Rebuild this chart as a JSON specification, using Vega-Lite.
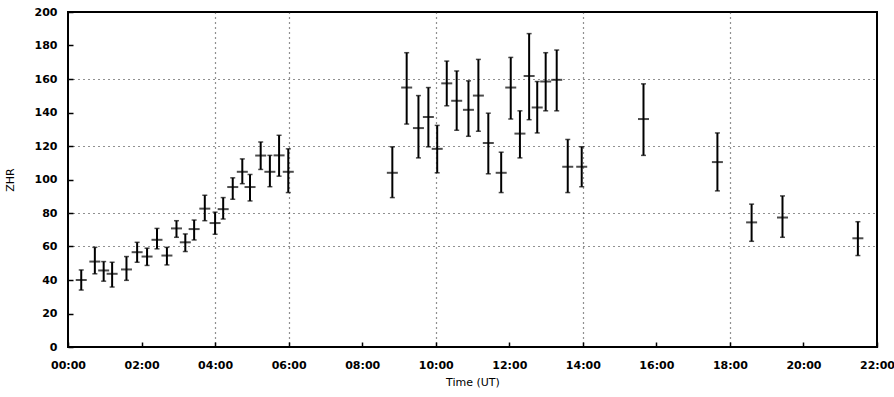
{
  "$schema": "https://vega.github.io/schema/vega-lite/v6.json",
  "autosize": {"type": "none"},
  "width": 809,
  "height": 335,
  "padding": {"left": 68, "top": 12, "right": 17, "bottom": 50},
  "background": "white",
  "config": {
    "view": {"stroke": "black", "strokeWidth": 2},
    "font": "DejaVu Sans",
    "axis": {
      "labelFont": "DejaVu Sans",
      "labelFontSize": 11,
      "labelFontWeight": "bold",
      "labelColor": "black",
      "labelOverlap": false,
      "labelFlush": false,
      "titleFont": "DejaVu Sans",
      "titleFontSize": 11,
      "titleFontWeight": "normal",
      "titleColor": "black",
      "domain": false,
      "tickColor": "black",
      "tickSize": -5,
      "tickWidth": 1.5,
      "gridColor": "#222222",
      "gridDash": [1, 4],
      "gridWidth": 1.2
    }
  },
  "data": {
    "values": [
      {"t": 0.36, "z": 40, "lo": 34, "hi": 46},
      {"t": 0.73, "z": 51, "lo": 43.7, "hi": 59.5},
      {"t": 0.97, "z": 45.7, "lo": 39.3, "hi": 51},
      {"t": 1.2, "z": 43.7, "lo": 35.8, "hi": 50.6},
      {"t": 1.59, "z": 46.3, "lo": 39.8, "hi": 54},
      {"t": 1.88, "z": 56.6, "lo": 50.6, "hi": 62.5},
      {"t": 2.15, "z": 54, "lo": 48.7, "hi": 59},
      {"t": 2.42, "z": 64, "lo": 58.6, "hi": 70.8},
      {"t": 2.69, "z": 54.6, "lo": 49, "hi": 59.5},
      {"t": 2.95, "z": 70.8, "lo": 65.5, "hi": 75.4},
      {"t": 3.19, "z": 62.5, "lo": 57, "hi": 67.5},
      {"t": 3.43, "z": 70.4, "lo": 63.9, "hi": 75.8},
      {"t": 3.72, "z": 82.6, "lo": 75.4, "hi": 90.6},
      {"t": 4.0, "z": 74, "lo": 67.3, "hi": 80.5},
      {"t": 4.22, "z": 82.3, "lo": 76.4, "hi": 89.2},
      {"t": 4.48, "z": 95.5, "lo": 88.2, "hi": 101},
      {"t": 4.74, "z": 104.6, "lo": 97.5, "hi": 112.3},
      {"t": 4.95, "z": 95.5, "lo": 87.2, "hi": 103},
      {"t": 5.24, "z": 114.3, "lo": 106, "hi": 122.4},
      {"t": 5.49, "z": 104.6, "lo": 95.7, "hi": 114.4},
      {"t": 5.74, "z": 114.4, "lo": 102, "hi": 126.4},
      {"t": 5.99, "z": 104.6, "lo": 92.2, "hi": 118.3},
      {"t": 8.82, "z": 104, "lo": 89.2, "hi": 119.5},
      {"t": 9.21, "z": 154.9, "lo": 133.1, "hi": 175.7},
      {"t": 9.53, "z": 130.7, "lo": 112.9, "hi": 150.1},
      {"t": 9.8, "z": 137.3, "lo": 119.5, "hi": 154.9},
      {"t": 10.04, "z": 118.3, "lo": 104, "hi": 132.3},
      {"t": 10.3, "z": 157.4, "lo": 144, "hi": 170.7},
      {"t": 10.57, "z": 147, "lo": 129.4, "hi": 164.8},
      {"t": 10.89, "z": 141.6, "lo": 125.8, "hi": 158.9},
      {"t": 11.16, "z": 150.1, "lo": 128.8, "hi": 171.7},
      {"t": 11.43, "z": 121.8, "lo": 103.4, "hi": 139.6},
      {"t": 11.78, "z": 104, "lo": 92.2, "hi": 116.3},
      {"t": 12.04, "z": 154.9, "lo": 136.1, "hi": 172.9},
      {"t": 12.29, "z": 127.4, "lo": 112.9, "hi": 141},
      {"t": 12.54, "z": 161.8, "lo": 135.7, "hi": 187.1},
      {"t": 12.76, "z": 143, "lo": 127.8, "hi": 158.5},
      {"t": 12.99, "z": 158.5, "lo": 141, "hi": 175.7},
      {"t": 13.29, "z": 159.5, "lo": 141, "hi": 177.3},
      {"t": 13.59, "z": 107.6, "lo": 92.2, "hi": 123.9},
      {"t": 13.97, "z": 107.6, "lo": 95.7, "hi": 119.5},
      {"t": 15.65, "z": 136.1, "lo": 114.4, "hi": 157.1},
      {"t": 17.66, "z": 110.4, "lo": 93.2, "hi": 127.8},
      {"t": 18.59, "z": 74.4, "lo": 63.1, "hi": 85.3},
      {"t": 19.43, "z": 77.3, "lo": 65.5, "hi": 90.2},
      {"t": 21.48, "z": 64.9, "lo": 54.6, "hi": 74.8}
    ]
  },
  "encoding": {
    "x": {
      "field": "t",
      "type": "quantitative",
      "scale": {"domain": [0, 22], "nice": false, "zero": false},
      "axis": {
        "title": "Time (UT)",
        "values": [0, 2, 4, 6, 8, 10, 12, 14, 16, 18, 20, 22],
        "labelExpr": "(datum.value < 10 ? '0' : '') + datum.value + ':00'",
        "labelPadding": 17,
        "titlePadding": 6,
        "gridOpacity": {"condition": {"test": "indexof([4,6,10,14,18], datum.value) >= 0", "value": 1}, "value": 0}
      }
    }
  },
  "layer": [
    {
      "mark": {"type": "rule", "color": "black", "strokeWidth": 2},
      "encoding": {
        "y": {
          "field": "lo",
          "type": "quantitative",
          "scale": {"domain": [0, 200], "nice": false},
          "axis": {
            "title": "ZHR",
            "values": [0, 20, 40, 60, 80, 100, 120, 140, 160, 180, 200],
            "labelPadding": 16,
            "titlePadding": 19,
            "gridOpacity": {"condition": {"test": "indexof([60,80,120,160], datum.value) >= 0", "value": 1}, "value": 0}
          }
        },
        "y2": {"field": "hi"}
      }
    },
    {
      "mark": {"type": "tick", "orient": "horizontal", "color": "black", "size": 11, "thickness": 2},
      "encoding": {"y": {"field": "z", "type": "quantitative",
          "axis": {
            "title": "ZHR",
            "values": [0, 20, 40, 60, 80, 100, 120, 140, 160, 180, 200],
            "labelPadding": 16,
            "titlePadding": 19,
            "gridOpacity": {"condition": {"test": "indexof([60,80,120,160], datum.value) >= 0", "value": 1}, "value": 0}
          }}}
    },
    {
      "mark": {"type": "tick", "orient": "horizontal", "color": "black", "size": 5, "thickness": 1.5},
      "encoding": {"y": {"field": "lo", "type": "quantitative",
          "axis": {
            "title": "ZHR",
            "values": [0, 20, 40, 60, 80, 100, 120, 140, 160, 180, 200],
            "labelPadding": 16,
            "titlePadding": 19,
            "gridOpacity": {"condition": {"test": "indexof([60,80,120,160], datum.value) >= 0", "value": 1}, "value": 0}
          }}}
    },
    {
      "mark": {"type": "tick", "orient": "horizontal", "color": "black", "size": 5, "thickness": 1.5},
      "encoding": {"y": {"field": "hi", "type": "quantitative",
          "axis": {
            "title": "ZHR",
            "values": [0, 20, 40, 60, 80, 100, 120, 140, 160, 180, 200],
            "labelPadding": 16,
            "titlePadding": 19,
            "gridOpacity": {"condition": {"test": "indexof([60,80,120,160], datum.value) >= 0", "value": 1}, "value": 0}
          }}}
    }
  ]
}
